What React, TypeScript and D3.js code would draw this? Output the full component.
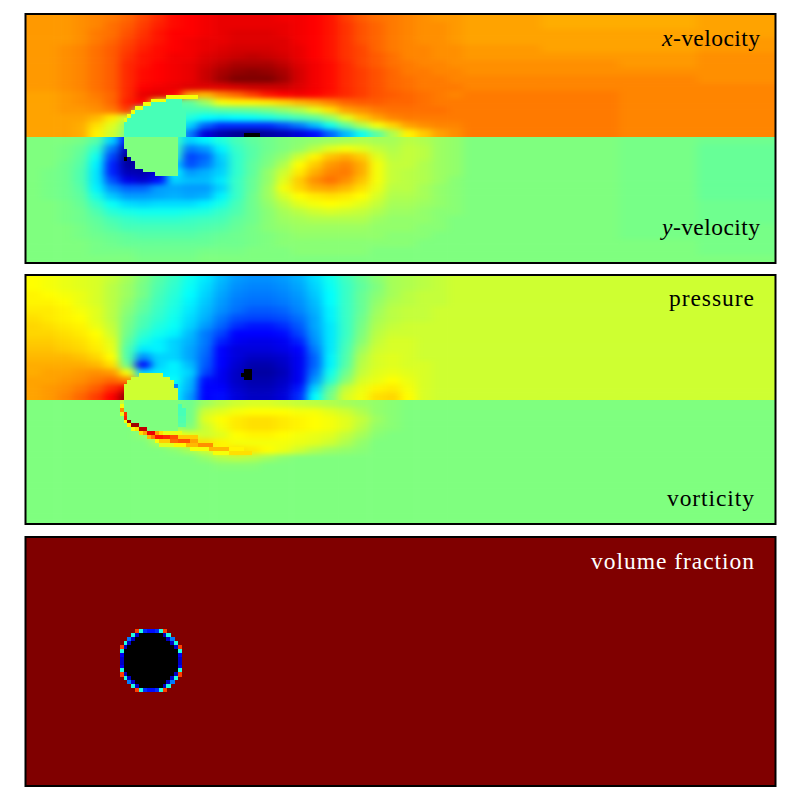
import React from "react";
import { scaleLinear } from "d3";

// Values are jet colormap positions x100. Negative = black.
// Columns are 4 grid cells wide up to cell 112, then wider (field is calm there).
const colEdges = [0, 4, 8, 12, 16, 20, 24, 28, 32, 36, 40, 44, 48, 52, 56, 60, 64, 68, 72, 76, 80, 84, 88, 92, 96, 100, 104, 108, 112, 132, 152, 172, 192];

const xVelocity = [
  [73, 73, 73, 74, 75, 76, 78, 81, 84, 87, 88, 89, 90, 90, 90, 90, 89, 89, 88, 86, 82, 79, 77, 76, 75, 74, 73, 73, 72, 71, 71, 72],
  [73, 73, 73, 74, 75, 77, 79, 82, 85, 87, 88, 89, 90, 90, 90, 90, 90, 89, 88, 86, 83, 80, 78, 76, 75, 74, 74, 73, 72, 71, 71, 72],
  [73, 73, 73, 74, 76, 77, 80, 83, 86, 88, 88, 89, 90, 91, 91, 91, 90, 89, 88, 86, 83, 80, 78, 76, 75, 74, 74, 73, 72, 72, 72, 72],
  [73, 73, 73, 74, 76, 78, 81, 84, 86, 88, 89, 90, 90, 91, 91, 91, 91, 89, 88, 86, 83, 80, 78, 76, 75, 74, 74, 73, 72, 72, 72, 73],
  [73, 73, 74, 75, 77, 79, 82, 85, 87, 88, 89, 90, 91, 92, 92, 92, 91, 90, 88, 86, 83, 81, 78, 76, 75, 75, 74, 74, 73, 72, 72, 73],
  [73, 73, 74, 75, 77, 79, 83, 86, 87, 89, 89, 91, 92, 93, 94, 93, 92, 90, 88, 86, 83, 81, 79, 77, 75, 75, 74, 74, 73, 73, 73, 74],
  [73, 73, 74, 75, 77, 79, 84, 86, 88, 89, 90, 92, 94, 96, 96, 96, 94, 91, 89, 87, 84, 81, 79, 77, 76, 75, 75, 74, 74, 74, 73, 74],
  [73, 73, 74, 75, 77, 79, 84, 87, 88, 89, 90, 93, 96, 98, 99, 98, 96, 92, 89, 87, 84, 82, 80, 78, 76, 76, 75, 75, 74, 74, 74, 74],
  [73, 73, 74, 75, 77, 79, 84, 87, 88, 89, 90, 93, 97, 100, 100, 100, 97, 92, 89, 87, 84, 82, 80, 78, 77, 76, 76, 75, 75, 75, 75, 74],
  [73, 73, 74, 75, 77, 79, 84, 88, 89, 90, 91, 91, 91, 92, 93, 93, 93, 91, 89, 87, 84, 82, 80, 78, 77, 76, 76, 76, 75, 75, 75, 75],
  [72, 72, 73, 74, 76, 78, 84, 90, 91, 88, 72, 70, 75, 78, 82, 86, 88, 89, 88, 86, 84, 82, 80, 79, 78, 77, 76, 75, 76, 76, 75, 75],
  [72, 72, 73, 74, 75, 78, 85, 88, 60, 45, 46, 53, 62, 64, 64, 65, 67, 70, 72, 75, 78, 79, 79, 78, 78, 77, 76, 76, 76, 76, 75, 75],
  [72, 72, 73, 73, 74, 76, 82, 44, 43, 43, 43, 43, 45, 46, 47, 49, 52, 55, 60, 66, 72, 74, 76, 77, 77, 77, 77, 76, 76, 76, 75, 75],
  [72, 72, 72, 72, 70, 65, 58, 43, 43, 43, 38, 34, 33, 34, 35, 37, 40, 43, 46, 52, 60, 68, 72, 75, 76, 76, 76, 76, 76, 76, 75, 75],
  [72, 72, 72, 71, 66, 60, 52, 43, 43, 43, 30, 20, 15, 15, 15, 15, 18, 22, 28, 36, 46, 55, 62, 67, 72, 74, 75, 75, 76, 76, 75, 75],
  [72, 72, 72, 71, 64, 58, 50, 43, 43, 43, 22, 8, 4, 2, 1, 3, 5, 8, 12, 20, 28, 36, 46, 55, 64, 68, 72, 74, 76, 76, 75, 75],
];

const yVelocity = [
  [50, 50, 50, 49, 45, 30, 12, 36, 40, 42, 30, 33, 38, 43, 46, 48, 50, 51, 52, 53, 54, 55, 54, 54, 56, 55, 53, 52, 50, 50, 49, 48],
  [50, 50, 49, 47, 40, 22, 5, 38, 40, 42, 22, 25, 33, 41, 45, 48, 50, 52, 56, 60, 62, 60, 57, 55, 57, 56, 53, 52, 50, 50, 49, 47],
  [50, 50, 49, 46, 36, 17, 2, 6, 38, 40, 17, 20, 30, 40, 45, 49, 52, 58, 64, 69, 71, 68, 60, 56, 57, 56, 53, 52, 50, 50, 49, 47],
  [50, 50, 48, 45, 33, 14, 3, 3, 8, 30, 18, 22, 29, 40, 46, 50, 55, 63, 68, 73, 75, 71, 62, 57, 57, 55, 53, 52, 50, 50, 49, 47],
  [50, 49, 48, 44, 32, 14, 5, 4, 8, 33, 25, 27, 30, 40, 46, 52, 58, 65, 71, 75, 76, 71, 62, 57, 56, 55, 53, 52, 50, 50, 49, 47],
  [50, 49, 48, 44, 32, 18, 9, 7, 12, 30, 28, 28, 32, 41, 47, 52, 60, 68, 74, 77, 74, 69, 62, 57, 56, 55, 53, 51, 50, 50, 49, 47],
  [50, 49, 48, 45, 33, 24, 20, 20, 25, 26, 25, 25, 30, 41, 47, 53, 62, 67, 71, 72, 70, 66, 61, 56, 56, 54, 52, 51, 50, 50, 49, 47],
  [50, 49, 48, 46, 37, 29, 25, 25, 26, 27, 26, 27, 33, 41, 48, 53, 59, 63, 65, 66, 65, 63, 59, 55, 55, 54, 52, 51, 50, 50, 49, 47],
  [50, 50, 49, 47, 41, 35, 31, 30, 31, 31, 31, 33, 37, 43, 48, 52, 56, 60, 62, 63, 62, 60, 57, 54, 54, 53, 52, 51, 50, 50, 49, 48],
  [50, 50, 49, 48, 44, 39, 37, 36, 36, 36, 37, 38, 41, 44, 48, 51, 54, 56, 58, 59, 58, 57, 55, 53, 53, 52, 51, 51, 50, 50, 49, 48],
  [50, 50, 49, 48, 46, 43, 41, 40, 40, 40, 41, 42, 43, 46, 48, 51, 53, 54, 55, 55, 55, 55, 53, 52, 52, 52, 51, 50, 50, 50, 49, 48],
  [50, 50, 50, 49, 47, 45, 43, 43, 43, 43, 43, 44, 45, 47, 49, 51, 52, 53, 53, 53, 53, 53, 52, 52, 52, 51, 51, 50, 50, 50, 49, 49],
  [50, 50, 50, 49, 48, 47, 46, 45, 45, 45, 45, 46, 47, 48, 49, 50, 51, 52, 52, 52, 52, 52, 52, 51, 51, 51, 50, 50, 50, 50, 49, 49],
  [50, 50, 50, 50, 49, 48, 47, 47, 47, 47, 47, 47, 48, 48, 49, 50, 51, 51, 51, 51, 51, 51, 51, 51, 51, 50, 50, 50, 50, 50, 50, 49],
  [50, 50, 50, 50, 49, 49, 49, 48, 48, 48, 48, 49, 49, 49, 50, 50, 50, 51, 51, 51, 51, 51, 50, 50, 50, 50, 50, 50, 50, 50, 50, 49],
  [50, 50, 50, 50, 50, 50, 50, 49, 49, 49, 49, 50, 50, 50, 50, 50, 50, 50, 50, 50, 50, 50, 50, 50, 50, 50, 50, 50, 50, 50, 50, 50],
];

const pressure = [
  [63, 62, 61, 60, 59, 57, 54, 50, 45, 41, 36, 32, 28, 25, 24, 24, 25, 27, 31, 36, 42, 47, 51, 54, 55, 56, 57, 58, 58, 58, 58, 58],
  [63, 62, 61, 60, 59, 56, 53, 49, 44, 40, 35, 31, 27, 24, 23, 23, 24, 26, 30, 35, 41, 46, 50, 54, 55, 56, 57, 58, 58, 58, 58, 58],
  [64, 63, 62, 61, 59, 56, 53, 49, 43, 39, 34, 30, 26, 23, 22, 22, 23, 25, 29, 34, 41, 47, 51, 54, 56, 57, 57, 58, 58, 58, 58, 58],
  [64, 64, 63, 61, 59, 56, 52, 47, 42, 38, 33, 29, 25, 22, 21, 21, 22, 24, 28, 34, 41, 47, 52, 55, 56, 57, 57, 58, 58, 58, 58, 58],
  [65, 65, 64, 62, 60, 56, 51, 46, 41, 37, 32, 28, 24, 21, 19, 19, 20, 23, 27, 33, 41, 47, 53, 56, 57, 57, 58, 58, 58, 58, 58, 58],
  [66, 65, 64, 63, 60, 56, 50, 44, 40, 36, 31, 27, 22, 18, 17, 17, 18, 21, 26, 33, 41, 48, 54, 56, 57, 57, 58, 58, 58, 58, 58, 58],
  [67, 66, 65, 64, 61, 57, 49, 43, 38, 35, 30, 25, 20, 15, 13, 13, 15, 19, 26, 32, 41, 49, 55, 57, 58, 58, 58, 58, 58, 58, 58, 58],
  [67, 67, 66, 65, 63, 58, 48, 40, 36, 33, 28, 22, 17, 11, 11, 11, 12, 17, 25, 32, 41, 50, 56, 58, 58, 58, 58, 58, 58, 58, 58, 58],
  [68, 68, 67, 66, 64, 60, 46, 37, 33, 30, 27, 22, 14, 10, 9, 9, 10, 14, 24, 32, 42, 51, 57, 59, 59, 58, 58, 58, 58, 58, 58, 58],
  [69, 69, 68, 67, 65, 61, 44, 32, 33, 30, 26, 21, 11, 8, 8, 8, 9, 11, 22, 32, 43, 53, 58, 59, 59, 58, 58, 58, 58, 58, 58, 58],
  [70, 70, 70, 69, 67, 63, 44, 24, 30, 30, 26, 20, 11, 8, 6, 6, 7, 10, 20, 33, 44, 55, 59, 60, 59, 58, 58, 58, 58, 58, 58, 58],
  [71, 71, 71, 71, 70, 66, 48, 12, 30, 33, 28, 19, 11, 7, 4, 4, 6, 10, 20, 33, 45, 56, 59, 60, 59, 59, 58, 58, 58, 58, 58, 58],
  [71, 72, 72, 73, 74, 73, 62, 30, 32, 33, 30, 17, 10, 6, 3, 3, 5, 10, 22, 36, 48, 57, 60, 61, 60, 59, 58, 58, 58, 58, 58, 58],
  [72, 72, 73, 74, 76, 78, 75, 55, 33, 35, 28, 12, 10, 6, 4, 4, 6, 10, 25, 39, 51, 59, 61, 63, 61, 59, 58, 58, 58, 58, 58, 58],
  [72, 73, 74, 76, 79, 84, 90, 55, 33, 33, 27, 11, 11, 7, 5, 5, 7, 13, 30, 46, 57, 61, 64, 65, 62, 59, 58, 58, 58, 58, 58, 58],
  [72, 73, 75, 78, 82, 88, 99, 60, 34, 33, 25, 11, 12, 8, 6, 6, 8, 15, 34, 49, 59, 62, 66, 67, 63, 59, 58, 58, 58, 58, 58, 58],
];

const vorticity = [
  [50, 50, 50, 50, 50, 50, 50, 50, 50, 50, 48, 53, 56, 58, 59, 59, 58, 57, 56, 55, 54, 53, 52, 51, 50, 50, 50, 50, 50, 50, 50, 50],
  [50, 50, 50, 50, 50, 50, 50, 50, 50, 50, 48, 58, 60, 62, 63, 63, 63, 62, 62, 60, 58, 55, 52, 51, 50, 50, 50, 50, 50, 50, 50, 50],
  [50, 50, 50, 50, 50, 50, 50, 50, 50, 50, 48, 60, 63, 65, 66, 66, 65, 64, 63, 62, 60, 57, 53, 51, 50, 50, 50, 50, 50, 50, 50, 50],
  [50, 50, 50, 50, 50, 50, 50, 50, 52, 52, 50, 58, 62, 65, 66, 66, 65, 64, 63, 62, 60, 56, 52, 51, 50, 50, 50, 50, 50, 50, 50, 50],
  [50, 50, 50, 50, 50, 50, 50, 52, 58, 62, 60, 58, 60, 63, 64, 64, 63, 62, 61, 60, 57, 54, 51, 50, 50, 50, 50, 50, 50, 50, 50, 50],
  [50, 50, 50, 50, 50, 50, 50, 50, 54, 60, 66, 66, 64, 62, 62, 62, 62, 61, 60, 58, 55, 52, 50, 50, 50, 50, 50, 50, 50, 50, 50, 50],
  [50, 50, 50, 50, 50, 50, 50, 50, 50, 51, 54, 58, 64, 66, 65, 63, 61, 58, 55, 53, 52, 51, 50, 50, 50, 50, 50, 50, 50, 50, 50, 50],
  [50, 50, 50, 50, 50, 50, 50, 50, 50, 50, 50, 52, 55, 56, 55, 53, 51, 50, 50, 50, 50, 50, 50, 50, 50, 50, 50, 50, 50, 50, 50, 50],
  [50, 50, 50, 50, 50, 50, 50, 50, 50, 50, 50, 50, 51, 51, 51, 50, 50, 50, 50, 50, 50, 50, 50, 50, 50, 50, 50, 50, 50, 50, 50, 50],
  [50, 50, 50, 50, 50, 50, 50, 50, 50, 50, 50, 50, 50, 50, 50, 50, 50, 50, 50, 50, 50, 50, 50, 50, 50, 50, 50, 50, 50, 50, 50, 50],
  [50, 50, 50, 50, 50, 50, 50, 50, 50, 50, 50, 50, 50, 50, 50, 50, 50, 50, 50, 50, 50, 50, 50, 50, 50, 50, 50, 50, 50, 50, 50, 50],
  [50, 50, 50, 50, 50, 50, 50, 50, 50, 50, 50, 50, 50, 50, 50, 50, 50, 50, 50, 50, 50, 50, 50, 50, 50, 50, 50, 50, 50, 50, 50, 50],
  [50, 50, 50, 50, 50, 50, 50, 50, 50, 50, 50, 50, 50, 50, 50, 50, 50, 50, 50, 50, 50, 50, 50, 50, 50, 50, 50, 50, 50, 50, 50, 50],
  [50, 50, 50, 50, 50, 50, 50, 50, 50, 50, 50, 50, 50, 50, 50, 50, 50, 50, 50, 50, 50, 50, 50, 50, 50, 50, 50, 50, 50, 50, 50, 50],
  [50, 50, 50, 50, 50, 50, 50, 50, 50, 50, 50, 50, 50, 50, 50, 50, 50, 50, 50, 50, 50, 50, 50, 50, 50, 50, 50, 50, 50, 50, 50, 50],
  [50, 50, 50, 50, 50, 50, 50, 50, 50, 50, 50, 50, 50, 50, 50, 50, 50, 50, 50, 50, 50, 50, 50, 50, 50, 50, 50, 50, 50, 50, 50, 50],
];

// Solid cylinder as stepped spans: [row, first cell, end cell, value], rows 0-31 in each half
const xVelocityBody = [
  [21, 36, 44, 62], [22, 32, 36, 62], [23, 30, 32, 62], [24, 28, 30, 62], [25, 27, 28, 62], [26, 26, 27, 62], [27, 25, 26, 60],
  [22, 36, 40, 43], [23, 32, 40, 43], [24, 30, 40, 43], [25, 28, 41, 43], [26, 27, 41, 43], [27, 26, 41, 43],
  [28, 25, 41, 43], [29, 25, 41, 43], [30, 25, 41, 43], [31, 25, 41, 43],
];
const yVelocityBody = [
  [0, 25, 39, 50], [1, 25, 39, 50], [2, 25, 39, 50], [3, 26, 39, 50], [4, 26, 39, 50], [5, 27, 39, 50],
  [6, 28, 39, 50], [7, 28, 39, 50], [8, 30, 39, 50], [9, 33, 39, 50], [5, 25, 26, -1],
];
const pressureBody = [
  [25, 29, 35, 58], [26, 27, 37, 58], [27, 26, 38, 58], [28, 25, 38, 58], [28, 38, 39, 23],
  [29, 25, 39, 58], [30, 25, 39, 58], [31, 25, 39, 58],
  [24, 56, 58, -1], [25, 55, 58, -1], [26, 56, 58, -1],
];
const xVelocityMin = [[31, 56, 60, -1]];
const vorticityBody = [
  [0, 25, 39, 50], [1, 25, 39, 50], [2, 25, 39, 50], [3, 26, 39, 50], [4, 26, 39, 50], [5, 27, 39, 50], [6, 29, 39, 50], [7, 31, 39, 50],
  [1, 39, 40, 43], [2, 39, 41, 43], [3, 39, 41, 43], [4, 39, 41, 44], [5, 39, 41, 44], [6, 39, 41, 45],
];
// Shear layer streak under the cylinder: [row, first cell, end cell, value]
const vorticityStreak = [
  [0, 24, 25, 56], [1, 24, 25, 62], [2, 24, 25, 74], [3, 24, 25, 60], [3, 25, 26, 83], [4, 25, 26, 85], [5, 25, 26, 62], [5, 26, 27, 98],
  [6, 26, 27, 64], [6, 27, 29, 97], [7, 27, 28, 62], [7, 28, 29, 66], [7, 29, 31, 94], [8, 29, 30, 66], [8, 30, 31, 72], [8, 31, 33, 90],
  [9, 31, 32, 70], [9, 32, 33, 76], [9, 33, 35, 86], [9, 35, 37, 84], [9, 37, 39, 80], [8, 33, 34, 72], [8, 34, 35, 66], [8, 35, 40, 61],
  [10, 33, 34, 62], [10, 34, 37, 68], [10, 37, 39, 78], [10, 39, 42, 80], [10, 42, 44, 72], [9, 39, 44, 68],
  [11, 34, 38, 60], [11, 38, 41, 64], [11, 41, 44, 70], [11, 44, 48, 74], [12, 42, 47, 62], [12, 47, 52, 70], [13, 48, 52, 62], [13, 52, 58, 66], [12, 52, 56, 64],
];

// Volume fraction: one value for the field, ring of mixed cells round the solid
const volumeField = 100;
const ringOrigin = [24, 24];
const volumeRing = [
  [null, null, null, null, 82, 38, 15, 12, 12, 15, 38, 82, null, null, null, null],
  [null, null, null, 38, 6, -1, -1, -1, -1, -1, -1, 6, 38, null, null, null],
  [null, null, 22, 6, -1, -1, -1, -1, -1, -1, -1, -1, 6, 22, null, null],
  [null, 38, 6, -1, -1, -1, -1, -1, -1, -1, -1, -1, -1, 6, 38, null],
  [82, 6, -1, -1, -1, -1, -1, -1, -1, -1, -1, -1, -1, -1, 6, 82],
  [38, -1, -1, -1, -1, -1, -1, -1, -1, -1, -1, -1, -1, -1, -1, 38],
  [10, -1, -1, -1, -1, -1, -1, -1, -1, -1, -1, -1, -1, -1, -1, 10],
  [6, -1, -1, -1, -1, -1, -1, -1, -1, -1, -1, -1, -1, -1, -1, 6],
  [6, -1, -1, -1, -1, -1, -1, -1, -1, -1, -1, -1, -1, -1, -1, 6],
  [10, -1, -1, -1, -1, -1, -1, -1, -1, -1, -1, -1, -1, -1, -1, 10],
  [38, -1, -1, -1, -1, -1, -1, -1, -1, -1, -1, -1, -1, -1, -1, 38],
  [82, 6, -1, -1, -1, -1, -1, -1, -1, -1, -1, -1, -1, -1, 6, 82],
  [null, 38, 6, -1, -1, -1, -1, -1, -1, -1, -1, -1, -1, 6, 38, null],
  [null, null, 22, 6, -1, -1, -1, -1, -1, -1, -1, -1, 6, 22, null, null],
  [null, null, null, 38, 6, -1, -1, -1, -1, -1, -1, 6, 38, null, null, null],
  [null, null, null, null, 82, 38, 15, 12, 12, 15, 38, 82, null, null, null, null],
];

const jet = scaleLinear<string>()
  .domain([0, 11, 34, 50, 63, 88, 100])
  .range(["#00007f", "#0000ff", "#00ffff", "#7fff7f", "#ffff00", "#ff0000", "#800000"])
  .clamp(true);
const colour = (v: number) => (v < 0 ? "#000000" : jet(v));

const x = scaleLinear().domain([0, 192]).range([26, 775]);

const Field = ({ id, values, top, bottom }: { id: string; values: number[][]; top: number; bottom: number }) => {
  const y = scaleLinear().domain([0, values.length]).range([top, bottom]);
  const pad = 30;
  return (
    <g clipPath={`url(#${id})`}>
      <clipPath id={id}>
        <rect x={x(0)} y={top} width={x(192) - x(0)} height={bottom - top} />
      </clipPath>
      <g filter="url(#smooth)">
        {values.map((row, i) =>
          row.map((v, j) => {
            const x0 = j === 0 ? x(0) - pad : x(colEdges[j]);
            const x1 = j === row.length - 1 ? x(192) + pad : x(colEdges[j + 1]);
            const y0 = i === 0 ? top - pad : y(i);
            const y1 = i === values.length - 1 ? bottom + pad : y(i + 1);
            return <rect key={`${i}-${j}`} x={x0} y={y0} width={x1 - x0 + 0.6} height={y1 - y0 + 0.6} fill={colour(v)} />;
          })
        )}
      </g>
    </g>
  );
};

const Spans = ({ spans, top, bottom }: { spans: number[][]; top: number; bottom: number }) => {
  const y = scaleLinear().domain([0, 32]).range([top, bottom]);
  return (
    <g shapeRendering="crispEdges">
      {spans.map(([row, c0, c1, v], i) => (
        <rect key={i} x={x(c0)} y={y(row)} width={x(c1) - x(c0)} height={y(row + 1) - y(row)} fill={colour(v)} />
      ))}
    </g>
  );
};

const labelFont = "'Liberation Serif', serif";

const Label = ({ right, base, width, fill = "#000", math, text }: { right: number; base: number; width: number; fill?: string; math?: string; text: string }) => (
  <text x={right - width} y={base} fontFamily={labelFont} fontSize={23.5} fill={fill} textLength={width} lengthAdjust="spacing">
    {math && <tspan fontStyle="italic">{math}</tspan>}
    {text}
  </text>
);

const Frame = ({ top, bottom }: { top: number; bottom: number }) => (
  <rect x={25.5} y={top} width={750} height={bottom - top} fill="none" stroke="#000" strokeWidth={2} />
);

export default function App() {
  const volY = scaleLinear().domain([0, 64]).range([537, 787]);
  const ringY = scaleLinear().domain([0, 64]).range([535.6, 785.6]);
  return (
    <svg width={800} height={800} style={{ position: "absolute", left: 0, top: 0, background: "#fff" }}>
      <defs>
        <filter id="smooth" filterUnits="userSpaceOnUse" x={-50} y={-50} width={900} height={900} colorInterpolationFilters="sRGB">
          <feGaussianBlur stdDeviation="5 2.5" />
        </filter>
      </defs>

      <Field id="clip-xvel" values={xVelocity} top={14} bottom={137} />
      <Field id="clip-yvel" values={yVelocity} top={137} bottom={263} />
      <Spans spans={xVelocityBody} top={14} bottom={137} />
      <Spans spans={xVelocityMin} top={14} bottom={137} />
      <Spans spans={yVelocityBody} top={137} bottom={263} />
      <Frame top={14} bottom={263} />
      <Label right={760} base={46} width={98} math="x" text="-velocity" />
      <Label right={760} base={235} width={98} math="y" text="-velocity" />

      <Field id="clip-pres" values={pressure} top={275} bottom={400} />
      <Field id="clip-vort" values={vorticity} top={400} bottom={524} />
      <Spans spans={pressureBody} top={275} bottom={400} />
      <Spans spans={vorticityBody} top={400} bottom={525} />
      <Spans spans={vorticityStreak} top={400} bottom={525} />
      <Frame top={275} bottom={524} />
      <Label right={754} base={306} width={85} text="pressure" />
      <Label right={754} base={506} width={87} text="vorticity" />

      <rect x={x(0)} y={volY(0)} width={x(192) - x(0)} height={volY(64) - volY(0)} fill={colour(volumeField)} />
      <g shapeRendering="crispEdges">
        {volumeRing.map((row, i) =>
          row.map((v, j) =>
            v === null ? null : (
              <rect
                key={`${i}-${j}`}
                x={x(ringOrigin[0] + j)}
                y={ringY(ringOrigin[1] + i)}
                width={x(1) - x(0) + 0.3}
                height={ringY(1) - ringY(0) + 0.3}
                fill={colour(v)}
              />
            )
          )
        )}
      </g>
      <Frame top={537} bottom={786} />
      <Label right={754} base={569} width={163} fill="#fff" text="volume fraction" />
    </svg>
  );
}
